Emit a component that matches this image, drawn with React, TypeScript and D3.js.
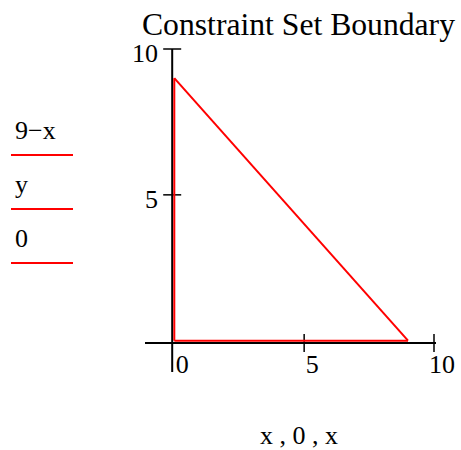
import React from "react";
import * as d3 from "d3";

// Trace data: vertices of each boundary segment
const diagX = [0, 9];
const diagY = [9, 0]; // 9 - x
const vertX = [0, 0];
const vertY = [0, 9]; // y
const horzX = [0, 9];
const horzY = [0, 0]; // 0

const xTicks = [0, 5, 10];
const yTicks = [0, 5, 10];
const legendLabels = ["9\u2212x", "y", "0"];
const title = "Constraint Set Boundary";
const xLabel = "x , 0 , x";

const W = 461;
const H = 450;
const FONT = "'Liberation Serif', 'Times New Roman', serif";
const RED = "#ff0000";

export default function App() {
  const x = d3.scaleLinear().domain([0, 10]).range([174.3, 434]);
  const y = d3.scaleLinear().domain([0, 10]).range([340.7, 49]);
  const line = d3
    .line<[number, number]>()
    .x((d) => x(d[0]))
    .y((d) => y(d[1]));

  const traces: [number, number][][] = [
    diagX.map((v, i) => [v, diagY[i]]),
    vertX.map((v, i) => [v, vertY[i]]),
    horzX.map((v, i) => [v, horzY[i]]),
  ];

  const axisX = 172.2; // vertical axis line
  const axisY = 343; // horizontal axis line
  const fs = 26;

  return (
    <svg
      width={W}
      height={H}
      style={{ position: "absolute", left: 0, top: 0, background: "#fff" }}
      fontFamily={FONT}
    >
      {/* title */}
      <text x={142} y={35} fontSize={31} textLength={313} lengthAdjust="spacingAndGlyphs">
        {title}
      </text>

      {/* legend */}
      {legendLabels.map((lab, i) => {
        const ly = 155 + i * 54;
        return (
          <g key={lab}>
            <text x={15} y={ly - 16} fontSize={fs}>
              {lab}
            </text>
            <line x1={11} x2={73} y1={ly} y2={ly} stroke={RED} strokeWidth={2} />
          </g>
        );
      })}

      {/* axes */}
      <line x1={145} x2={436} y1={axisY} y2={axisY} stroke="#000" strokeWidth={2} />
      <line x1={axisX} x2={axisX} y1={y(10)} y2={372} stroke="#000" strokeWidth={2} />
      {xTicks
        .filter((v) => v > 0)
        .map((v) => (
          <line key={"xt" + v} x1={x(v)} x2={x(v)} y1={axisY - 9} y2={axisY + 9} stroke="#000" strokeWidth={1.5} />
        ))}
      {yTicks.map((v) => (
        <line key={"yt" + v} x1={axisX - 9} x2={axisX + 9} y1={v === 0 ? axisY : y(v)} y2={v === 0 ? axisY : y(v)} stroke="#000" strokeWidth={1.5} />
      ))}

      {/* tick labels */}
      {xTicks.map((v) => (
        <text key={"xl" + v} x={x(v) + 8} y={373} fontSize={fs} textAnchor="middle">
          {v}
        </text>
      ))}
      {yTicks
        .filter((v) => v > 0)
        .map((v) => (
          <text key={"yl" + v} x={158} y={y(v) + 13} fontSize={fs} textAnchor="end">
            {v}
          </text>
        ))}

      {/* traces */}
      {traces.map((t, i) => (
        <path key={"tr" + i} d={line(t) || ""} fill="none" stroke={RED} strokeWidth={2} />
      ))}

      {/* x-axis expression label */}
      <text x={299} y={444} fontSize={fs} textAnchor="middle">
        {xLabel}
      </text>
    </svg>
  );
}
